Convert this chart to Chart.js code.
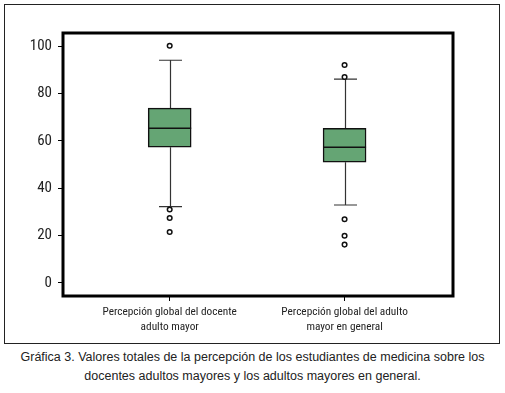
<!DOCTYPE html>
<html>
<head>
<meta charset="utf-8">
<script src="https://cdn.jsdelivr.net/npm/chart.js@4"></script>
<style>
    body { margin: 0; background: #fff; width: 505px; height: 393px; position: relative; font-family: "Liberation Sans", Arial, sans-serif; }
    #frame { position: absolute; left: 4px; top: 4px; width: 494px; height: 338px; border: 1px solid #222; }
    #caption { position: absolute; left: 0; top: 348px; width: 505px; text-align: center; font-size: 12.5px; line-height: 19px; color: #222; }
</style>
</head>
<body>
<div id="frame"><canvas id="boxChart" width="494" height="338"></canvas></div>
<div id="caption">Gráfica 3. Valores totales de la percepción de los estudiantes de medicina sobre los<br>docentes adultos mayores y los adultos mayores en general.</div>
<script>
const categories = [
    ['Percepción global del docente', 'adulto mayor'],
    ['Percepción global del adulto', 'mayor en general'],
];
const q1 = [57.3, 51.0];
const median = [65.3, 57.3];
const q3 = [73.8, 65.3];
const whiskerLow = [32.2, 32.9];
const whiskerHigh = [94.0, 86.0];
const outliers = [
    [100.1, 31.0, 27.4, 21.5],
    [92.0, 86.9, 26.9, 19.9, 16.2],
];
const yTicks = [0, 20, 40, 60, 80, 100];

const boxData = categories.map((c, i) => ({ x: i, y: [q1[i], q3[i]] }));
const outlierData = [];
outliers.forEach((list, i) => {
    list.forEach(v => outlierData.push({ x: i, y: v }));
});

const narrowFont = '"Roboto Condensed", "Liberation Sans Narrow", sans-serif';

// whiskers, medians and the heavy frame round the plot area
const boxExtras = {
    id: 'boxExtras',
    beforeDatasetsDraw(chart) {
        const { ctx, scales: { x, y } } = chart;
        ctx.save();
        ctx.strokeStyle = '#333';
        ctx.lineWidth = 1.2;
        categories.forEach((c, i) => {
            const px = Math.round(x.getPixelForValue(i)) + 0.5;
            ctx.beginPath();
            ctx.moveTo(px, y.getPixelForValue(q3[i]));
            ctx.lineTo(px, y.getPixelForValue(whiskerHigh[i]));
            ctx.moveTo(px, y.getPixelForValue(q1[i]));
            ctx.lineTo(px, y.getPixelForValue(whiskerLow[i]));
            ctx.moveTo(px - 11.5, y.getPixelForValue(whiskerHigh[i]));
            ctx.lineTo(px + 11.5, y.getPixelForValue(whiskerHigh[i]));
            ctx.moveTo(px - 11.5, y.getPixelForValue(whiskerLow[i]));
            ctx.lineTo(px + 11.5, y.getPixelForValue(whiskerLow[i]));
            ctx.stroke();
        });
        ctx.restore();
    },
    afterDatasetsDraw(chart) {
        const { ctx, chartArea, scales: { x, y } } = chart;
        ctx.save();
        ctx.strokeStyle = '#111';
        ctx.lineWidth = 1.5;
        categories.forEach((c, i) => {
            const px = x.getPixelForValue(i);
            const py = y.getPixelForValue(median[i]);
            ctx.beginPath();
            ctx.moveTo(px - 21.5, py);
            ctx.lineTo(px + 21.5, py);
            ctx.stroke();
        });
        ctx.strokeStyle = '#000';
        ctx.lineWidth = 3;
        ctx.strokeRect(chartArea.left, chartArea.top, chartArea.right - chartArea.left, chartArea.bottom - chartArea.top);
        ctx.restore();
    },
};

new Chart(document.getElementById('boxChart'), {
    type: 'bar',
    data: {
        datasets: [
            {
                type: 'bar',
                data: boxData,
                backgroundColor: '#65a574',
                borderColor: '#111',
                borderWidth: 1.5,
                borderSkipped: false,
                barThickness: 43,
                order: 2,
            },
            {
                type: 'line',
                data: outlierData,
                showLine: false,
                pointRadius: 2.3,
                pointBorderWidth: 1.5,
                pointBorderColor: '#111',
                pointBackgroundColor: '#fff',
                order: 1,
            },
        ],
    },
    options: {
        responsive: false,
        animation: false,
        layout: {
            padding: { top: 28, right: 46, left: 0, bottom: 0 },
        },
        plugins: {
            legend: { display: false },
            tooltip: { enabled: false },
        },
        scales: {
            x: {
                type: 'linear',
                offset: false,
                min: -0.61,
                max: 1.62,
                afterBuildTicks: (scale) => { scale.ticks = categories.map((c, i) => ({ value: i })); },
                afterFit: (scale) => { scale.height = 47; },
                border: { display: false },
                grid: { offset: false, drawOnChartArea: false, drawTicks: true, tickLength: 5, tickColor: '#000', lineWidth: 1 },
                ticks: {
                    callback: (value) => categories[value],
                    color: '#222',
                    padding: 4,
                    maxRotation: 0,
                    autoSkip: false,
                    font: { family: narrowFont, size: 11.3, lineHeight: 1.3 },
                },
            },
            y: {
                min: -5.5,
                max: 105.5,
                afterBuildTicks: (scale) => { scale.ticks = yTicks.map(v => ({ value: v })); },
                afterFit: (scale) => { scale.width = 58; },
                border: { display: false },
                grid: { drawOnChartArea: false, drawTicks: true, tickLength: 5, tickColor: '#000', lineWidth: 1 },
                ticks: {
                    color: '#222',
                    padding: 6,
                    font: { family: narrowFont, size: 15 },
                },
            },
        },
    },
    plugins: [boxExtras],
});
</script>
</body>
</html>
